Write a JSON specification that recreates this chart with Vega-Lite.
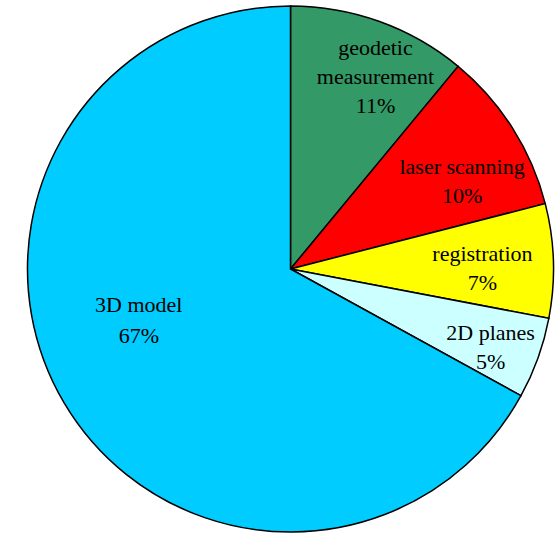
{
  "$schema": "https://vega.github.io/schema/vega-lite/v6.json",
  "width": 533,
  "height": 530,
  "padding": {"left": 24, "top": 4, "right": 0, "bottom": 0},
  "autosize": {"type": "none"},
  "background": "#ffffff",
  "config": {"view": {"fill": "#f6faf8", "stroke": null}},
  "data": {
    "values": [
      {"idx": 1, "name": "geodetic\nmeasurement", "value": 11},
      {"idx": 2, "name": "laser scanning", "value": 10},
      {"idx": 3, "name": "registration", "value": 7},
      {"idx": 4, "name": "2D planes", "value": 5},
      {"idx": 5, "name": "3D model", "value": 67}
    ]
  },
  "transform": [
    {"stack": "value", "groupby": [], "sort": [{"field": "idx", "order": "ascending"}], "as": ["v0", "v1"]},
    {"calculate": "(datum.v0 + datum.v1) / 2", "as": "mid"},
    {"calculate": "datum.name + '\\n' + datum.value + '%'", "as": "label"}
  ],
  "layer": [
    {
      "mark": {"type": "arc", "outerRadius": 263, "stroke": "#000000", "strokeWidth": 1.5},
      "encoding": {
        "theta": {"field": "v0", "type": "quantitative", "scale": {"domain": [0, 100]}},
        "theta2": {"field": "v1"},
        "color": {
          "field": "name",
          "type": "nominal",
          "scale": {
            "domain": ["geodetic\nmeasurement", "laser scanning", "registration", "2D planes", "3D model"],
            "range": ["#339966", "#ff0000", "#ffff00", "#ccffff", "#00ccff"]
          },
          "legend": null
        }
      }
    },
    {
      "transform": [{"filter": "datum.idx == 1"}],
      "mark": {"type": "text", "radius": 236, "font": "Liberation Serif", "fontSize": 22, "lineHeight": 29, "lineBreak": "\n", "align": "center", "baseline": "middle", "color": "#000000", "dx": 5, "dy": 1},
      "encoding": {
        "theta": {"field": "mid", "type": "quantitative", "stack": null},
        "text": {"field": "label"}
      }
    },
    {
      "transform": [{"filter": "datum.idx == 2"}],
      "mark": {"type": "text", "radius": 202, "font": "Liberation Serif", "fontSize": 22, "lineHeight": 29, "lineBreak": "\n", "align": "center", "baseline": "middle", "color": "#000000", "dx": 1, "dy": 6},
      "encoding": {
        "theta": {"field": "mid", "type": "quantitative", "stack": null},
        "text": {"field": "label"}
      }
    },
    {
      "transform": [{"filter": "datum.idx == 3"}],
      "mark": {"type": "text", "radius": 202, "font": "Liberation Serif", "fontSize": 22, "lineHeight": 29, "lineBreak": "\n", "align": "center", "baseline": "middle", "color": "#000000", "dx": -10, "dy": -9},
      "encoding": {
        "theta": {"field": "mid", "type": "quantitative", "stack": null},
        "text": {"field": "label"}
      }
    },
    {
      "transform": [{"filter": "datum.idx == 4"}],
      "mark": {"type": "text", "radius": 202, "font": "Liberation Serif", "fontSize": 22, "lineHeight": 29, "lineBreak": "\n", "align": "center", "baseline": "middle", "color": "#000000", "dx": 10, "dy": -4},
      "encoding": {
        "theta": {"field": "mid", "type": "quantitative", "stack": null},
        "text": {"field": "label"}
      }
    },
    {
      "transform": [{"filter": "datum.idx == 5"}],
      "mark": {"type": "text", "radius": 160, "font": "Liberation Serif", "fontSize": 22, "lineHeight": 31, "lineBreak": "\n", "align": "center", "baseline": "middle", "color": "#000000", "dx": -14, "dy": -45},
      "encoding": {
        "theta": {"field": "mid", "type": "quantitative", "stack": null},
        "text": {"field": "label"}
      }
    }
  ]
}
